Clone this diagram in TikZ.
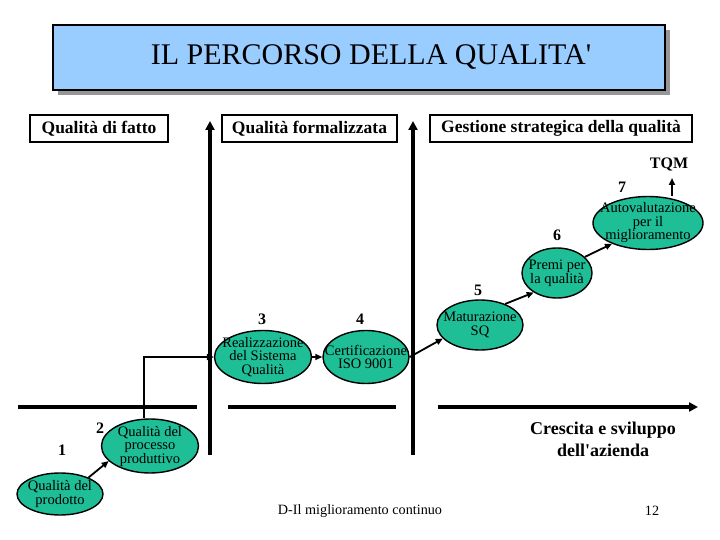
\documentclass[tikz,border=0pt]{standalone}
\usepackage{fontspec}
\setmainfont{Liberation Serif}
\usetikzlibrary{arrows.meta,shapes.geometric}
\definecolor{ellfill}{RGB}{30,190,150}
\definecolor{titleblue}{RGB}{153,204,255}
\definecolor{shadowgray}{RGB}{150,150,150}
\begin{document}
\begin{tikzpicture}[x=1pt,y=-1pt,
  ell/.style={ellipse, draw=black, line width=1.4pt, fill=ellfill, inner sep=0pt},
  etext/.style={align=center, inner sep=0pt, font=\fontsize{14.5}{13.5}\selectfont},
  hdr/.style={draw=black, line width=1.4pt, fill=white, inner sep=0pt, minimum height=27, font=\fontsize{17.5}{20}\selectfont\bfseries},
  num/.style={inner sep=0pt, font=\fontsize{16}{16}\selectfont\bfseries},
  axis/.style={line width=3.8pt},
  bigarrow/.style={line width=3.8pt, -{Triangle[length=9pt,width=9pt]}},
  conn/.style={line width=1.8pt, -{Triangle[length=7pt,width=6pt]}}
]
\useasboundingbox (0,0) rectangle (720,540);
\fill[white] (0,0) rectangle (720,540);

% title
\fill[shadowgray] (58,30) rectangle (670,95);
\node[draw=black, line width=1.4pt, fill=titleblue, minimum width=612, minimum height=65, inner sep=0pt] (title) at (359,57.5) {};
\node[inner sep=0pt, font=\fontsize{30}{32}\selectfont] (titletext) at (371,57.5) {IL PERCORSO DELLA QUALITA\textquotesingle};

% headers
\node[hdr, minimum width=138] (h1) at (99,128.5) {Qualità di fatto};
\node[hdr, minimum width=175] (h2) at (309.5,128.5) {Qualità formalizzata};
\node[hdr, minimum width=262] (h3) at (561,128.5) {Gestione strategica della qualità};

% axes
\coordinate (v1b) at (210,455); \coordinate (v1t) at (210,121);
\coordinate (v2b) at (413,455); \coordinate (v2t) at (413,121);
\draw[bigarrow] (v1b) -- (v1t);
\draw[bigarrow] (v2b) -- (v2t);
\coordinate (a1) at (18,407); \coordinate (a2) at (197,407);
\coordinate (a3) at (228,407); \coordinate (a4) at (396,407);
\coordinate (a5) at (438,407); \coordinate (a6) at (698,407);
\draw[axis] (a1) -- (a2);
\draw[axis] (a3) -- (a4);
\draw[bigarrow] (a5) -- (a6);

% ellipses
\node[ell, minimum width=86, minimum height=42] (e1) at (60,494) {};
\node[etext] (t1) at (e1) {Qualità del\\prodotto};
\node[ell, minimum width=97, minimum height=54] (e2) at (150,446) {};
\node[etext] (t2) at (e2) {Qualità del\\processo\\produttivo};
\node[ell, minimum width=97, minimum height=53] (e3) at (263,357) {};
\node[etext] (t3) at (e3) {Realizzazione\\del Sistema\\Qualità};
\node[ell, minimum width=86, minimum height=53] (e4) at (366,357) {};
\node[etext] (t4) at (e4) {Certificazione\\ISO 9001};
\node[ell, minimum width=86, minimum height=50] (e5) at (480,325) {};
\node[etext] (t5) at (e5) {Maturazione\\SQ};
\node[ell, minimum width=70, minimum height=50] (e6) at (557,273) {};
\node[etext] (t6) at (e6) {Premi per\\la qualità};
\node[ell, minimum width=110, minimum height=53] (e7) at (648,223) {};
\node[etext] (t7) at (e7) {Autovalutazione\\per il\\miglioramento};

% numbers
\node[num] (n1) at (62,450) {1};
\node[num] (n2) at (100,428) {2};
\node[num] (n3) at (262,319) {3};
\node[num] (n4) at (360,319) {4};
\node[num] (n5) at (478,290) {5};
\node[num] (n6) at (557,235) {6};
\node[num] (n7) at (622,187) {7};
\node[num] (tqm) at (669,165) {TQM};

% connectors
\draw[conn] (e1.30) -- (e2.200);
\draw[conn] ([xshift=-6pt]e2.north) |- (e3.west);
\draw[conn] (e3.east) -- (e4.west);
\draw[conn] (e4.east) -- (e5.200);
\draw[conn] (e5.40) -- (e6.220);
\draw[conn] (e6.30) -- (e7.210);
\coordinate (tqmb) at (672,178);
\draw[conn] ([xshift=24pt]e7.north) -- (tqmb);

% texts
\node[align=center, inner sep=0pt, font=\fontsize{18}{22}\selectfont\bfseries] (growth) at (603,439) {Crescita e sviluppo\\dell\textquotesingle azienda};
\node[inner sep=0pt, font=\fontsize{14.2}{15}\selectfont] (footer) at (360,511) {D-Il miglioramento continuo};
\node[inner sep=0pt, font=\fontsize{14.2}{15}\selectfont] (page) at (652,511) {12};
\end{tikzpicture}
\end{document}
